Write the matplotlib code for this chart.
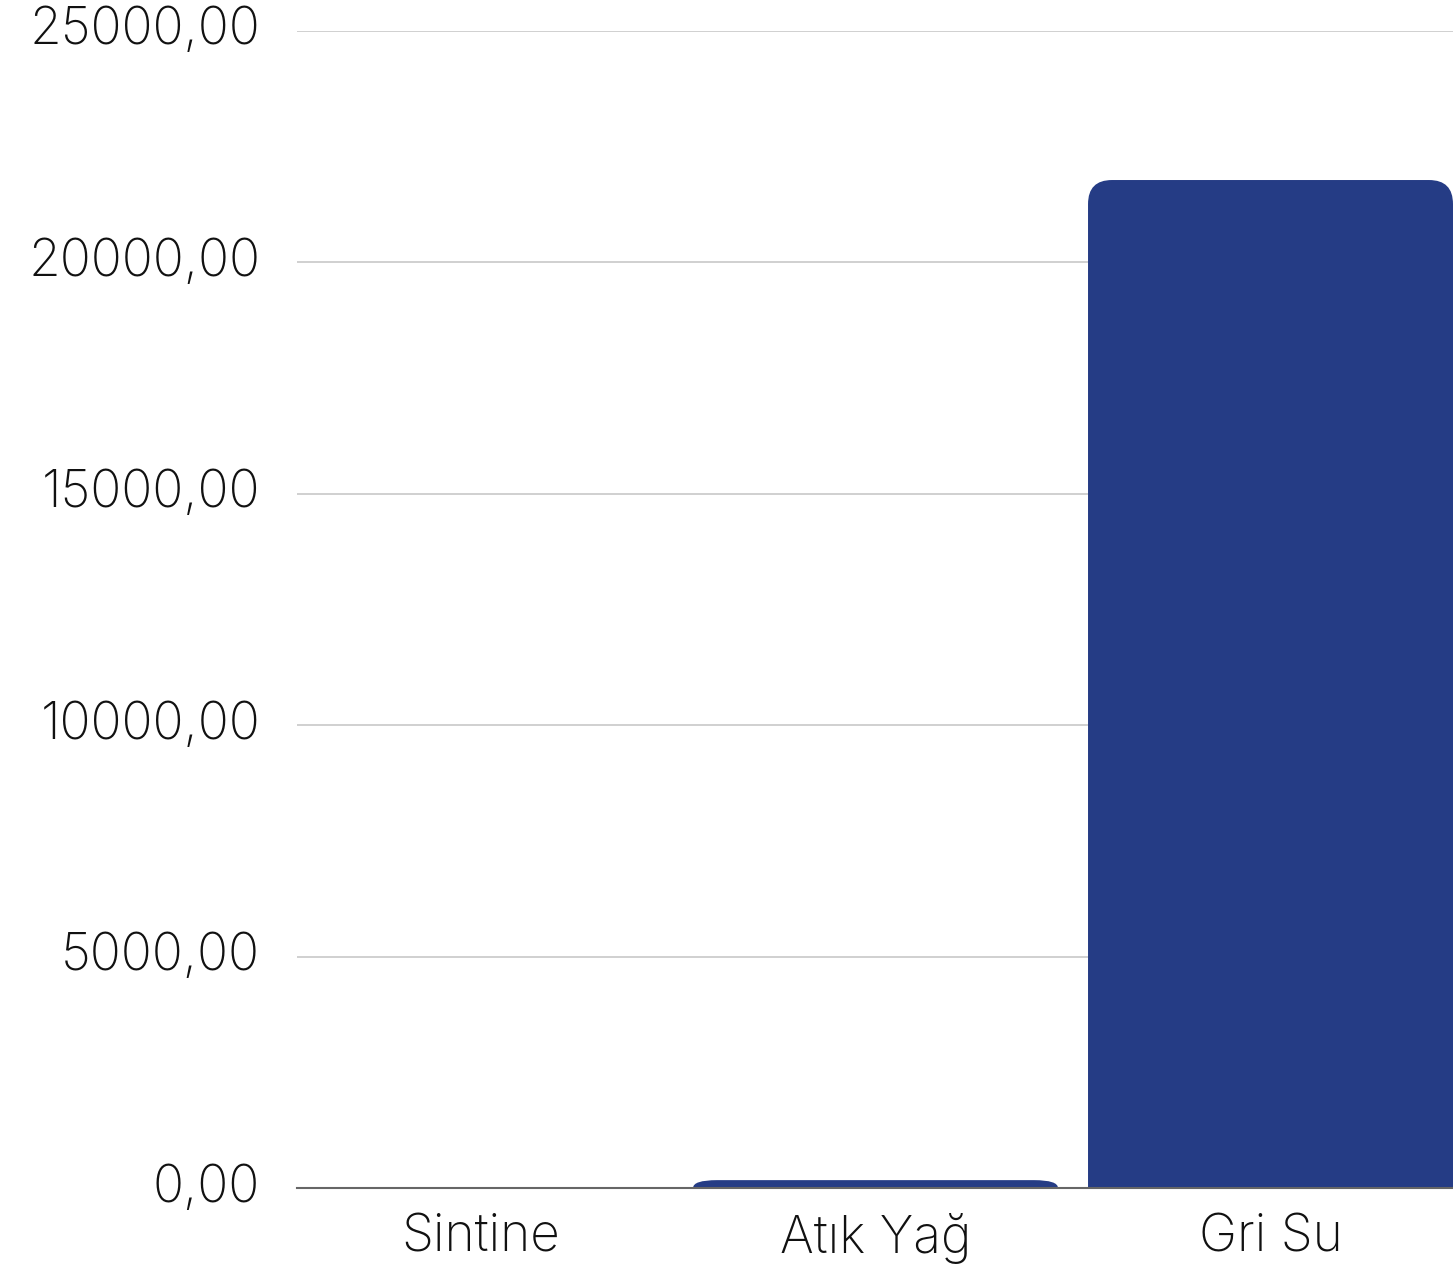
import numpy as np
import matplotlib
matplotlib.use('Agg')
import matplotlib.pyplot as plt
from matplotlib.path import Path
from matplotlib.patches import PathPatch

categories = ['Sintine', 'Atık Yağ', 'Gri Su']
values = [0.0, 170.0, 21780.0]
yticks = [0, 5000, 10000, 15000, 20000, 25000]

bar_color = '#253c85'

plt.rcParams['font.family'] = ['Inter', 'DejaVu Sans']

W, H, DPI = 1453, 1271, 100
fig = plt.figure(figsize=(W / DPI, H / DPI), dpi=DPI)
ax = fig.add_axes([297 / W, 1 - 1188 / H, (1453 - 297) / W, (1188 - 31) / H])

ax.set_xlim(-0.4646, 2.462)
ax.set_ylim(0, 25000)

# pixel -> data scale for rounded corners
px_x = (2.462 + 0.4646) / (1453 - 297)
px_y = 25000 / (1188 - 31)


def rounded_top(x0, x1, h, r_px=24):
    ry = min(r_px * px_y, h)
    rx = min(r_px * px_x, (x1 - x0) / 2)
    verts = [(x0, 0), (x0, h - ry), (x0, h), (x0 + rx, h),
             (x1 - rx, h), (x1, h), (x1, h - ry), (x1, 0), (x0, 0)]
    codes = [Path.MOVETO, Path.LINETO, Path.CURVE3, Path.CURVE3,
             Path.LINETO, Path.CURVE3, Path.CURVE3, Path.LINETO, Path.CLOSEPOLY]
    return Path(verts, codes)


bw = 0.924
for i, v in enumerate(values):
    if v <= 0:
        continue
    p = rounded_top(i - bw / 2, i + bw / 2, v)
    ax.add_patch(PathPatch(p, facecolor=bar_color, edgecolor='none', zorder=3))

ax.set_yticks(yticks)
ax.set_yticklabels(['%d,00' % t for t in yticks])
ax.set_xticks(range(len(categories)))
ax.set_xticklabels(categories)

ax.grid(axis='y', color='#c8c8c8', linewidth=1.2, zorder=0)
ax.set_axisbelow(True)
for s in ['top', 'right', 'left']:
    ax.spines[s].set_visible(False)
ax.spines['bottom'].set_color('#666666')
ax.spines['bottom'].set_linewidth(1.5)
ax.spines['bottom'].set_zorder(4)

ax.tick_params(axis='y', length=0, pad=26.5, labelsize=37, labelcolor='#111111')
ax.tick_params(axis='x', length=0, pad=18, labelsize=37, labelcolor='#111111')
for lab in ax.get_xticklabels() + ax.get_yticklabels():
    lab.set_fontweight('light')
for lab in ax.get_yticklabels():
    lab.set_verticalalignment('center')

fig.savefig('out.png', dpi=DPI)
